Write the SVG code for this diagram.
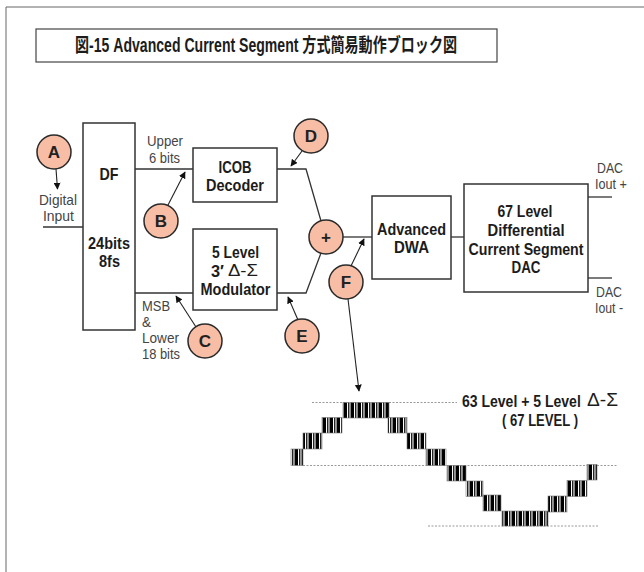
<svg xmlns="http://www.w3.org/2000/svg" width="644" height="572" viewBox="0 0 644 572">
<defs>
<style>
.t{font-family:"Liberation Sans","Noto Sans CJK JP",sans-serif}
.b{font-weight:bold;fill:#1c1c1c}
.lbl{font-size:15px;fill:#444}
.box{fill:#fff;stroke:#333;stroke-width:1.5}
.cir{fill:#F8BEA5;stroke:#2a2a2a;stroke-width:1.5}
.ctext{font-size:17px;font-weight:bold;fill:#222;text-anchor:middle}
.ln{fill:none;stroke:#333;stroke-width:1.3}
.ar{fill:none;stroke:#222;stroke-width:1.1;marker-end:url(#ah)}
.dot{stroke:#9a9a9a;stroke-width:1.2;stroke-dasharray:2 1.5;fill:none}
.blk{fill:url(#pwm);stroke:#777;stroke-width:0.6}
.gr{font-family:"Liberation Sans","DejaVu Sans",sans-serif;font-weight:normal;fill:#1c1c1c}
</style>
<marker id="ah" viewBox="0 0 10 10" refX="9" refY="5" markerWidth="7" markerHeight="7" orient="auto" markerUnits="userSpaceOnUse">
<path d="M0,0 L10,5 L0,10 z" fill="#111"/>
</marker>
<pattern id="pwm" width="7" height="20" patternUnits="userSpaceOnUse">
<rect x="0" y="0" width="7" height="20" fill="#fff"/>
<rect x="0" y="0" width="1" height="20" fill="#888"/>
<rect x="1" y="0" width="3" height="20" fill="#000"/>
<rect x="5" y="0" width="1" height="20" fill="#222"/>
<rect x="6" y="0" width="1" height="20" fill="#999"/>
</pattern>
</defs>

<rect width="644" height="572" fill="#fff"/>
<path d="M6,572 V7 H644" fill="none" stroke="#666" stroke-width="1"/>

<g id="title">
<rect x="36" y="29" width="461" height="33" fill="#fff" stroke="#444" stroke-width="1.2"/>
<text class="t b" x="75" y="52" font-size="19.5" textLength="382" lengthAdjust="spacingAndGlyphs">図-15  Advanced Current Segment 方式簡易動作ブロック図</text>
</g>

<g id="connectors">
<path class="ln" d="M43,227 H83"/>
<path class="ln" d="M135,169 H193"/>
<path class="ln" d="M135,293 H193"/>
<path class="ln" d="M277,169 H306 L321,221"/>
<path class="ln" d="M277,293 H306 L321,253"/>
<path class="ln" d="M343,237 H372"/>
<path class="ln" d="M451,237 H464"/>
<path class="ln" d="M588,197 H612"/>
<path class="ln" d="M588,278 H612"/>
<path class="ar" d="M56,169 L57.5,189"/>
<path class="ar" d="M168,205 L185,172"/>
<path class="ar" d="M196,327 L176,296"/>
<path class="ar" d="M302,151 L291,166"/>
<path class="ar" d="M298,320 L288,297"/>
<path class="ar" d="M351,266 L364,239"/>
<path class="ar" d="M348,299 L359,391"/>
</g>

<g id="input-label">
<text class="t lbl" x="39" y="205" textLength="38" lengthAdjust="spacingAndGlyphs">Digital</text>
<text class="t lbl" x="43" y="221" textLength="31" lengthAdjust="spacingAndGlyphs">Input</text>
</g>

<g id="node-df">
<rect class="box" x="83" y="123" width="52" height="207"/>
<text class="t b" x="99.5" y="180" font-size="17" textLength="19" lengthAdjust="spacingAndGlyphs">DF</text>
<text class="t b" x="88" y="249" font-size="17" textLength="42" lengthAdjust="spacingAndGlyphs">24bits</text>
<text class="t b" x="99" y="267" font-size="17" textLength="21" lengthAdjust="spacingAndGlyphs">8fs</text>
</g>

<g id="upper-label">
<text class="t lbl" x="147" y="146" textLength="36" lengthAdjust="spacingAndGlyphs">Upper</text>
<text class="t lbl" x="149" y="163" textLength="31" lengthAdjust="spacingAndGlyphs">6 bits</text>
</g>

<g id="lower-label">
<text class="t lbl" x="142" y="311" textLength="28" lengthAdjust="spacingAndGlyphs">MSB</text>
<text class="t lbl" x="142" y="327" textLength="9" lengthAdjust="spacingAndGlyphs">&amp;</text>
<text class="t lbl" x="142" y="343" textLength="37" lengthAdjust="spacingAndGlyphs">Lower</text>
<text class="t lbl" x="142" y="359" textLength="38" lengthAdjust="spacingAndGlyphs">18 bits</text>
</g>

<g id="node-icob">
<rect class="box" x="193" y="148" width="84" height="54"/>
<text class="t b" x="218.5" y="173" font-size="16.5" textLength="33" lengthAdjust="spacingAndGlyphs">ICOB</text>
<text class="t b" x="206" y="191" font-size="16.5" textLength="58" lengthAdjust="spacingAndGlyphs">Decoder</text>
</g>

<g id="node-mod">
<rect class="box" x="193" y="229" width="84" height="81"/>
<text class="t b" x="212" y="258" font-size="16.5" textLength="47" lengthAdjust="spacingAndGlyphs">5 Level</text>
<text class="t b" x="211" y="277" font-size="16.5" textLength="13" lengthAdjust="spacingAndGlyphs">3′</text>
<text class="t gr" x="228" y="276" font-size="17" textLength="30" lengthAdjust="spacingAndGlyphs">Δ-Σ</text>
<text class="t b" x="200.5" y="294.5" font-size="16.5" textLength="70" lengthAdjust="spacingAndGlyphs">Modulator</text>
</g>

<g id="node-sum">
<circle class="cir" cx="326" cy="237" r="17"/>
<text class="t ctext" x="326" y="243">+</text>
</g>

<g id="node-dwa">
<rect class="box" x="372" y="196" width="79" height="83"/>
<text class="t b" x="377" y="235" font-size="16.5" textLength="69" lengthAdjust="spacingAndGlyphs">Advanced</text>
<text class="t b" x="394" y="253" font-size="16.5" textLength="35" lengthAdjust="spacingAndGlyphs">DWA</text>
</g>

<g id="node-dac">
<rect class="box" x="464" y="184" width="124" height="108"/>
<text class="t b" x="497.5" y="217" font-size="16.5" textLength="55" lengthAdjust="spacingAndGlyphs">67 Level</text>
<text class="t b" x="487.5" y="236" font-size="16.5" textLength="77" lengthAdjust="spacingAndGlyphs">Differential</text>
<text class="t b" x="468.5" y="255" font-size="16.5" textLength="115" lengthAdjust="spacingAndGlyphs">Current Segment</text>
<text class="t b" x="511.5" y="273" font-size="16.5" textLength="29" lengthAdjust="spacingAndGlyphs">DAC</text>
</g>

<g id="out-labels">
<text class="t lbl" x="597" y="173" textLength="26" lengthAdjust="spacingAndGlyphs">DAC</text>
<text class="t lbl" x="595" y="189" textLength="32" lengthAdjust="spacingAndGlyphs">Iout +</text>
<text class="t lbl" x="596" y="297" textLength="26" lengthAdjust="spacingAndGlyphs">DAC</text>
<text class="t lbl" x="595" y="313" textLength="28" lengthAdjust="spacingAndGlyphs">Iout -</text>
</g>

<g id="marker-a"><circle class="cir" cx="54" cy="152" r="17"/><text class="t ctext" x="54" y="158">A</text></g>
<g id="marker-b"><circle class="cir" cx="161" cy="221" r="17"/><text class="t ctext" x="161" y="227">B</text></g>
<g id="marker-c"><circle class="cir" cx="205" cy="341" r="17"/><text class="t ctext" x="205" y="347">C</text></g>
<g id="marker-d"><circle class="cir" cx="311" cy="136" r="17"/><text class="t ctext" x="311" y="142">D</text></g>
<g id="marker-e"><circle class="cir" cx="302" cy="336" r="17"/><text class="t ctext" x="302" y="342">E</text></g>
<g id="marker-f"><circle class="cir" cx="346" cy="282" r="17"/><text class="t ctext" x="346" y="288">F</text></g>

<g id="waveform">
<path class="dot" d="M312,402.5 H457"/>
<path class="dot" d="M303,465.5 H618"/>
<path class="dot" d="M428,526 H598"/>
<rect class="blk" x="291" y="449" width="12" height="16.5"/>
<rect class="blk" x="303" y="433" width="19" height="16"/>
<rect class="blk" x="322" y="417.5" width="20" height="15.5"/>
<rect class="blk" x="343" y="402.5" width="46" height="15.5"/>
<rect class="blk" x="388" y="417.5" width="19" height="15.5"/>
<rect class="blk" x="407" y="433" width="19" height="16"/>
<rect class="blk" x="426" y="449" width="20" height="16.5"/>
<rect class="blk" x="447" y="465.5" width="19" height="15.5"/>
<rect class="blk" x="466" y="481" width="17" height="15.5"/>
<rect class="blk" x="483" y="495" width="18" height="16"/>
<rect class="blk" x="502" y="511" width="46" height="15"/>
<rect class="blk" x="548" y="496" width="19" height="16"/>
<rect class="blk" x="567" y="480.5" width="20" height="16"/>
<rect class="blk" x="587" y="464.5" width="10" height="15.5"/>
<text class="t b" transform="translate(462,407) scale(0.85,1)" font-size="16.5">63 Level + 5 Level</text>
<text class="t gr" x="587" y="406" font-size="18" textLength="31" lengthAdjust="spacingAndGlyphs">Δ-Σ</text>
<text class="t b" x="502" y="426" font-size="16.5" textLength="76" lengthAdjust="spacingAndGlyphs">( 67 LEVEL )</text>
</g>
</svg>
